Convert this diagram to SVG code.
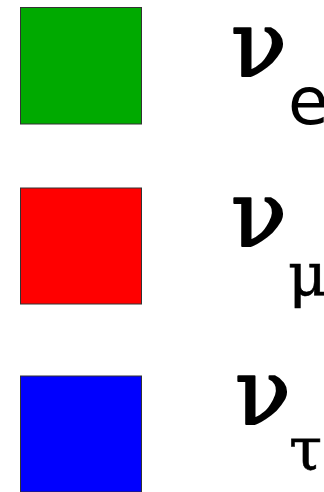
<svg xmlns="http://www.w3.org/2000/svg" width="324" height="492" viewBox="0 0 324 492">
<style>
.sq{stroke:#333;stroke-width:1}
.nu{font-family:"DejaVu Serif",serif;font-size:92px;fill:#000;stroke:#000;stroke-width:2;stroke-linejoin:round}
.sub{font-family:"DejaVu Serif",serif;font-size:60px;fill:#000;stroke:#000;stroke-width:0.6}
.subs{font-family:"DejaVu Sans",sans-serif;font-size:66px;fill:#000}
</style>
<rect width="324" height="492" fill="#fff"/>
<g id="nu-e">
<rect class="sq" x="20.5" y="7.5" width="121" height="116.5" fill="#00aa00"/>
<text class="nu" x="231" y="76">ν</text>
<text class="subs" x="288" y="124">e</text>
</g>
<g id="nu-mu">
<rect class="sq" x="20.5" y="188" width="121" height="116" fill="#ff0000"/>
<text class="nu" x="231" y="246">ν</text>
<text class="sub" x="288" y="296">μ</text>
</g>
<g id="nu-tau">
<rect class="sq" x="20.5" y="376" width="121" height="116" fill="#0000ff"/>
<text class="nu" x="235" y="424">ν</text>
<text class="sub" x="289" y="470">τ</text>
</g>
</svg>
